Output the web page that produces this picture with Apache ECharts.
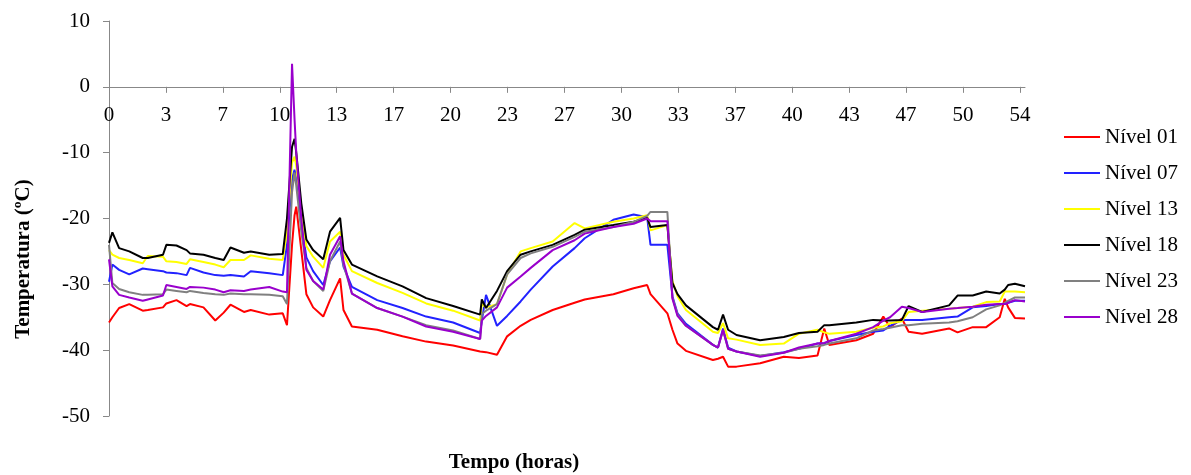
<!DOCTYPE html>
<html>
<head>
    <meta charset="utf-8" />
    <title>Temperatura</title>
    <style>
        html, body {
            margin: 0;
            padding: 0;
            background: #fff;
        }

        #chart {
            width: 1191px;
            height: 475px;
        }
    </style>
    <script src="https://cdn.jsdelivr.net/npm/echarts@6/dist/echarts.min.js"></script>
</head>
<body>
    <div id="chart"></div>
    <script>
        // tempo (horas)
        var tempo = [0, 0.2, 0.6, 1.2, 2.0, 2.3, 3.2, 3.4, 4.0, 4.6, 4.8, 5.6, 6.3, 6.8, 7.2, 8.0, 8.4, 9.5, 10.3, 10.55,
            10.85, 11.0, 11.1, 11.4, 11.7, 12.1, 12.7, 13.1, 13.7, 13.9, 14.4, 15.9, 17.4, 18.8, 20.4, 22.0, 22.1, 22.35, 23.0, 23.6,
            24.4, 25.0, 26.3, 27.6, 28.2, 29.9, 31.1, 31.9, 32.1, 33.1, 33.4, 33.7, 34.2, 35.8, 36.1, 36.4, 36.7, 37.2, 38.6, 40.0,
            40.9, 42.0, 42.4, 42.7, 44.3, 45.3, 45.9, 46.3, 47.0, 47.4, 48.2, 49.8, 50.3, 51.2, 52.0, 52.8, 53.1, 53.3, 53.7, 54.3];

        var nivel01 = [-35.8, -35.0, -33.6, -33.0, -34.0, -33.9, -33.5, -32.9, -32.4, -33.3, -33.0, -33.5, -35.5, -34.3, -33.1, -34.2, -33.9, -34.6, -34.4, -36.2,
            -24.0, -19.5, -18.2, -24.8, -31.5, -33.5, -34.9, -32.4, -29.1, -33.9, -36.4, -36.9, -37.9, -38.7, -39.3, -40.2, -40.1, -40.3, -40.7, -37.9,
            -36.3, -35.4, -33.9, -32.8, -32.3, -31.5, -30.6, -30.1, -31.5, -34.4, -36.9, -39.0, -40.1, -41.5, -41.3, -41.0, -42.5, -42.5, -42.0, -41.0,
            -41.2, -40.8, -36.7, -39.2, -38.5, -37.5, -34.9, -36.5, -35.2, -37.2, -37.5, -36.7, -37.3, -36.5, -36.5, -35.0, -32.2, -33.5, -35.1, -35.2];

        var nivel07 = [-29.6, -27.0, -27.8, -28.5, -27.6, -27.7, -28.0, -28.2, -28.3, -28.6, -27.5, -28.2, -28.6, -28.7, -28.6, -28.8, -28.0, -28.3, -28.6, -24.0,
            -14.0, -12.6, -14.0, -20.7, -25.9, -28.0, -30.1, -26.5, -24.4, -27.3, -30.4, -32.4, -33.6, -34.9, -35.8, -37.4, -35.5, -31.6, -36.3, -34.8,
            -32.6, -30.8, -27.3, -24.5, -23.0, -20.2, -19.4, -19.8, -24.0, -24.0, -31.8, -34.4, -36.0, -39.2, -39.6, -36.7, -39.6, -40.2, -40.9, -40.3,
            -39.8, -39.0, -39.0, -38.6, -37.7, -37.2, -37.0, -36.3, -35.4, -35.4, -35.4, -35.0, -34.9, -33.5, -33.3, -33.0, -33.0, -32.8, -32.5, -32.5];

        var nivel13 = [-24.8, -25.5, -26.0, -26.3, -26.8, -25.7, -25.8, -26.5, -26.6, -26.9, -26.2, -26.6, -27.0, -27.4, -26.3, -26.3, -25.6, -26.1, -26.3, -22.0,
            -11.5, -10.6, -12.0, -18.7, -24.2, -25.8, -27.5, -23.5, -22.0, -25.5, -28.0, -29.8, -31.3, -32.9, -34.0, -35.5, -33.0, -33.5, -33.0, -28.5,
            -25.0, -24.5, -23.5, -20.7, -21.5, -20.5, -20.0, -19.5, -21.8, -21.0, -29.5, -31.8, -33.9, -37.2, -37.4, -35.9, -38.2, -38.4, -39.2, -39.0,
            -37.5, -36.9, -37.3, -37.5, -37.2, -36.6, -36.4, -35.9, -35.6, -34.2, -34.0, -33.7, -33.6, -33.4, -32.7, -32.6, -31.1, -31.1, -31.1, -31.2];

        var nivel18 = [-23.7, -22.1, -24.5, -25.0, -26.0, -26.0, -25.5, -24.0, -24.1, -24.8, -25.3, -25.5, -26.0, -26.3, -24.4, -25.2, -25.0, -25.5, -25.4, -20.0,
            -9.1, -7.9, -10.0, -17.7, -23.2, -24.8, -26.2, -22.0, -19.9, -24.8, -27.0, -28.8, -30.3, -32.1, -33.3, -34.6, -32.3, -33.6, -31.0, -28.0,
            -25.5, -25.0, -24.0, -22.5, -21.7, -21.0, -20.5, -19.9, -21.3, -21.0, -29.8, -31.5, -33.2, -36.5, -36.9, -34.6, -36.9, -37.7, -38.5, -38.0,
            -37.4, -37.2, -36.2, -36.2, -35.8, -35.4, -35.5, -35.5, -35.4, -33.3, -34.2, -33.2, -31.7, -31.7, -31.1, -31.4, -30.8, -30.1, -29.9, -30.3];

        var nivel23 = [-24.0, -29.8, -30.7, -31.2, -31.6, -31.6, -31.5, -30.8, -31.0, -31.2, -31.0, -31.3, -31.5, -31.6, -31.4, -31.5, -31.5, -31.6, -31.8, -33.0,
            -16.0, -13.0, -15.0, -22.0, -27.5, -29.5, -31.0, -26.5, -23.5, -27.0, -31.4, -33.6, -34.9, -36.2, -37.0, -38.3, -34.5, -34.0, -33.0, -28.5,
            -26.0, -25.3, -24.3, -22.8, -22.0, -21.3, -20.5, -19.6, -19.0, -19.0, -32.0, -34.6, -36.3, -39.2, -39.6, -37.0, -39.8, -40.2, -40.8, -40.4,
            -39.8, -39.4, -39.2, -39.0, -38.2, -37.0, -36.8, -36.6, -36.2, -36.2, -36.0, -35.8, -35.6, -35.0, -33.8, -33.2, -32.8, -32.5, -32.0, -32.0];

        var nivel28 = [-26.2, -30.3, -31.6, -32.0, -32.5, -32.3, -31.7, -30.1, -30.4, -30.7, -30.4, -30.5, -30.8, -31.2, -30.9, -31.0, -30.8, -30.4, -31.1, -31.2,
            3.5, -5.0, -10.0, -20.0, -27.8, -29.5, -30.8, -25.5, -22.7, -26.5, -31.4, -33.6, -34.9, -36.4, -37.2, -38.3, -35.5, -34.8, -33.5, -30.5,
            -28.8, -27.5, -24.8, -23.3, -22.3, -21.3, -20.8, -20.0, -20.4, -20.4, -32.2, -34.8, -36.3, -39.2, -39.6, -36.9, -39.8, -40.2, -41.0, -40.4,
            -39.6, -39.0, -38.9, -38.6, -37.5, -36.5, -35.5, -35.0, -33.4, -33.6, -34.2, -33.7, -33.6, -33.4, -33.1, -33.0, -33.0, -32.8, -32.4, -32.6];

        var xLabels = ['0', '3', '7', '10', '13', '17', '20', '23', '27', '30', '33', '37', '40', '43', '47', '50', '54'];
        var xStep = 54 / 16;
        var xMax = 54.3;
        var yMin = -50, yMax = 10;

        var nomes = ['Nível 01', 'Nível 07', 'Nível 13', 'Nível 18', 'Nível 23', 'Nível 28'];
        var cores = ['#FF0000', '#2222FF', '#FFFF00', '#000000', '#808080', '#9900CC'];
        var valores = [nivel01, nivel07, nivel13, nivel18, nivel23, nivel28];

        var font = 'Liberation Serif';
        var gridTop = 21, gridBottom = 59, chartH = 475;
        var plotH = chartH - gridTop - gridBottom;
        // distance from the bottom of the grid up to y = 0
        var zeroLift = plotH * (0 - yMin) / (yMax - yMin);

        var tickPos = [];
        for (var i = 0; i < xLabels.length; i++) {
            tickPos.push(i * xStep);
        }

        function pares(vals) {
            var out = [];
            for (var i = 0; i < tempo.length; i++) {
                out.push([tempo[i], vals[i]]);
            }
            return out;
        }

        var series = [];
        for (var s = 0; s < nomes.length; s++) {
            series.push({
                name: nomes[s],
                type: 'line',
                symbol: 'none',
                color: cores[s],
                lineStyle: { width: 2, color: cores[s] },
                data: pares(valores[s])
            });
        }

        var myChart = echarts.init(document.getElementById('chart'));
        var option = {
            animation: false,
            grid: { left: 109, right: 166, top: gridTop, bottom: gridBottom },
            legend: {
                orient: 'vertical',
                left: 1059,
                top: 121,
                icon: 'rect',
                itemWidth: 36,
                itemHeight: 2,
                itemGap: 14,
                textStyle: { fontFamily: font, fontSize: 21, color: '#000', lineHeight: 22 },
                data: nomes
            },
            xAxis: {
                type: 'value',
                min: 0,
                max: xMax,
                position: 'bottom',
                offset: -zeroLift,
                axisLine: { onZero: false, lineStyle: { color: '#888' } },
                axisTick: { show: true, length: 6, customValues: tickPos, lineStyle: { color: '#888' } },
                axisLabel: {
                    customValues: tickPos,
                    margin: 18,
                    fontFamily: font,
                    fontSize: 21,
                    color: '#000',
                    formatter: function (v) {
                        var k = Math.round(v / xStep);
                        return xLabels[k] !== undefined ? xLabels[k] : '';
                    }
                },
                splitLine: { show: false }
            },
            yAxis: {
                type: 'value',
                min: yMin,
                max: yMax,
                interval: 10,
                axisLine: { show: true, onZero: false, lineStyle: { color: '#888' } },
                axisTick: { show: true, length: 6, lineStyle: { color: '#888' } },
                axisLabel: { margin: 19, fontFamily: font, fontSize: 21, color: '#000' },
                splitLine: { show: false }
            },
            graphic: [
                {
                    type: 'text',
                    x: 24,
                    y: 259,
                    rotation: Math.PI / 2,
                    style: {
                        text: 'Temperatura (ºC)',
                        fontFamily: font,
                        fontSize: 21,
                        fontWeight: 'bold',
                        fill: '#000',
                        align: 'center',
                        verticalAlign: 'middle'
                    }
                },
                {
                    type: 'text',
                    x: 514,
                    y: 463,
                    style: {
                        text: 'Tempo (horas)',
                        fontFamily: font,
                        fontSize: 21,
                        fontWeight: 'bold',
                        fill: '#000',
                        align: 'center',
                        verticalAlign: 'middle'
                    }
                }
            ],
            series: series
        };
        myChart.setOption(option);
    </script>
</body>
</html>
